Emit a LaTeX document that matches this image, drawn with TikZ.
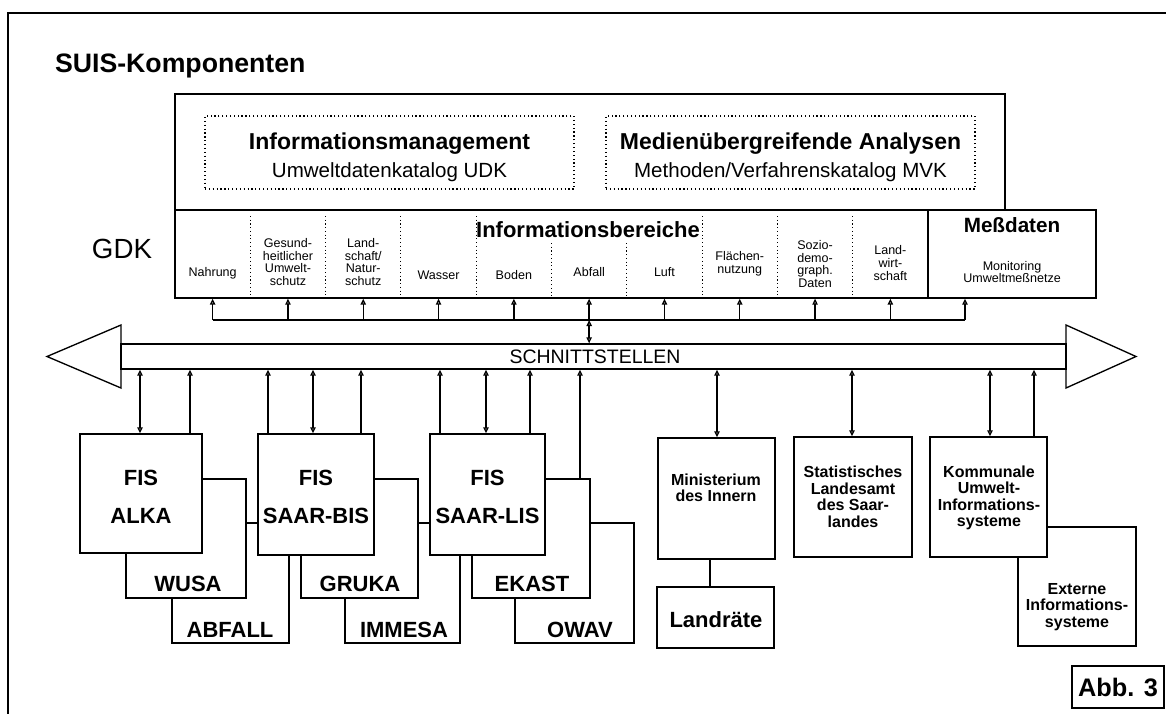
\documentclass[tikz,border=0pt]{standalone}
\usepackage{fontspec}
\setmainfont{Liberation Sans}
\usetikzlibrary{arrows.meta,fit}
\tikzset{
  box/.style={draw,fill=white,inner sep=0pt,line width=1pt},
  dotbox/.style={draw,dotted,inner sep=0pt,line width=0.9pt},
  big/.style={font=\bfseries\fontsize{16.5}{28.5}\selectfont,align=center},
  mid/.style={font=\bfseries\fontsize{12}{12.4}\selectfont,align=center},
  col/.style={font=\fontsize{9.4}{9.5}\selectfont,align=center},
  >={Triangle[open,length=4.5pt,width=4pt]}
}
\begin{document}
\begin{tikzpicture}[x=0.75pt,y=-0.75pt,line width=1pt]
\useasboundingbox (0,0) rectangle (1166,714);
\draw[line width=1.3pt] (1166,13) -- (8,13) -- (8,714);
\node[anchor=base west,font=\bfseries\fontsize{20}{24}\selectfont] (title) at (50,72) {SUIS-Komponenten};

\node[box,fit={(175,94) (1005,210)}] (top) {};
\node[dotbox,fit={(205,116) (574,189)}] (im) {};
\node[dotbox,fit={(606,116) (975,189)}] (ma) {};
\node[anchor=base,font=\bfseries\fontsize{17.25}{20}\selectfont] (imt) at (389.5,149) {Informationsmanagement};
\node[anchor=base,font=\fontsize{15.4}{18}\selectfont] (ims) at (389.5,177) {Umweltdatenkatalog UDK};
\node[anchor=base,font=\bfseries\fontsize{17.25}{20}\selectfont] (mat) at (790.5,149) {Medienübergreifende Analysen};
\node[anchor=base,font=\fontsize{15.4}{18}\selectfont] (mas) at (790.5,177) {Methoden/Verfahrenskatalog MVK};

\node[box,fit={(175,210) (928,298)}] (gdk) {};
\node[box,fit={(928,210) (1096,298)}] (mess) {};
\node[font=\fontsize{20.8}{24}\selectfont] (gdkt) at (122,249) {GDK};
\node[anchor=base,font=\bfseries\fontsize{16.5}{20}\selectfont] (ib) at (588,237) {Informationsbereiche};
\foreach \i in {1,2,3,4,7,8,9} \draw[dotted,line width=0.8pt] ({175+75.3*\i},216) -- ({175+75.3*\i},296);
\foreach \i in {5,6} \draw[dotted,line width=0.8pt] ({175+75.3*\i},243) -- ({175+75.3*\i},296);
\foreach \i/\y/\t in {1/273/Nahrung,2/262/{Gesund-\\heitlicher\\Umwelt-\\schutz},3/262/{Land-\\schaft/\\Natur-\\schutz},
  4/275/Wasser,5/275/Boden,6/272/Abfall,7/272/Luft,8/264/{Flächen-\\nutzung},
  9/264/{Sozio-\\demo-\\graph.\\Daten},10/263/{Land-\\wirt-\\schaft}}
  \node[col] (c\i) at ({175+75.3*(\i-0.5)},\y) {\t};
\node[anchor=base,font=\bfseries\fontsize{15.5}{18}\selectfont] (mt) at (1012,232) {Meßdaten};
\node[col] (mon) at (1012,272) {Monitoring\\Umweltmeßnetze};

\node[box,fit={(121,344) (1066,369)}] (bus) {};
\draw (121,325) -- (47,356.5) -- (121,388) -- cycle;
\draw (1066,325) -- (1136,356.5) -- (1066,388) -- cycle;
\node[font=\fontsize{14.6}{16}\selectfont] (sst) at (595,357) {SCHNITTSTELLEN};

\coordinate (hl) at (0,320);
\foreach \i in {1,...,10} {
  \coordinate (a\i) at ({175+75.3*(\i-0.5)},0);
  \draw[->] (a\i |- hl) -- (a\i |- gdk.south);
}
\coordinate (am) at (965,0);
\draw[->] (am |- hl) -- (am |- mess.south);
\draw (a1 |- hl) -- (am |- hl);
\draw[<->] (a6 |- hl) -- (a6 |- bus.north);

\foreach \n/\a/\b/\c/\d in {abfall/172/523/289/643,immesa/345/523/460/643,owav/515/523/634/643,
  ext/1018/527/1136/646,wusa/126/479/246/598,gruka/301/479/418/598,ekast/472/479/590/598,
  alka/80/434/202/553,saarbis/258/434/374/555,saarlis/430/434/545/555,
  minist/658/438/775/559,lr/657/587/774/648,statist/794/437/912/557,komm/930/437/1047/557,abb/1072/666/1164/708}
  \node[box,fit={(\a,\b) (\c,\d)}] (\n) {};

\node[big] (alkat) at (141,497) {FIS\\ALKA};
\node[big] (saarbist) at (316,497) {FIS\\SAAR-BIS};
\node[big] (saarlist) at (487.5,497) {FIS\\SAAR-LIS};
\foreach \n/\x/\y/\t in {wusat/188/591/WUSA,abfallt/230/637/ABFALL,grukat/360/591/GRUKA,immesat/404/637/IMMESA,
  ekastt/532/591/EKAST,owavt/580/637/OWAV,lrt/716/627/Landräte}
  \node[anchor=base,font=\bfseries\fontsize{16.5}{20}\selectfont] (\n) at (\x,\y) {\t};
\node[mid] (ministt) at (716,488) {Ministerium\\des Innern};
\node[mid] (statistt) at (853,497) {Statistisches\\Landesamt\\des Saar-\\landes};
\node[mid] (kommt) at (989,498) {Kommunale\\Umwelt-\\Informations-\\systeme};
\node[mid] (extt) at (1077,607) {Externe\\Informations-\\systeme};
\node[font=\bfseries\fontsize{19}{22}\selectfont] (abbt) at (1118,687) {Abb. 3};

\coordinate (ml) at (710,0);
\draw (ml |- minist.south) -- (ml |- lr.north);
\foreach \x/\n/\t in {140/alka/<->,190/alka/->,268/saarbis/->,313/saarbis/<->,361/saarbis/->,
  440/saarlis/->,486/saarlis/<->,530/saarlis/->,580/ekast/->,717/minist/<->,852/statist/<->,
  990/komm/<->,1034/komm/->} {
  \coordinate (b) at (\x,0);
  \draw[\t] (b |- \n.north) -- (b |- bus.south);
}
\end{tikzpicture}
\end{document}
